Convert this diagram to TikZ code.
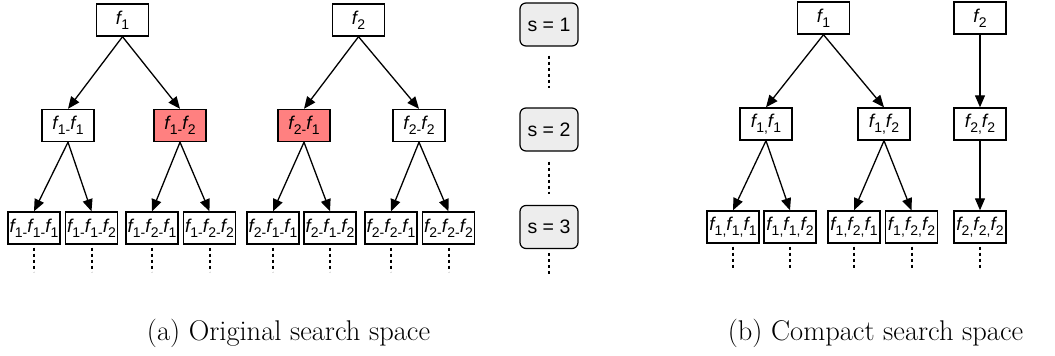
\documentclass[tikz,border=0pt]{standalone}
\usepackage{fontspec}
\setmainfont{Latin Modern Roman}
\newfontfamily\boxfont{Liberation Sans}
\usetikzlibrary{arrows.meta}
\newcommand\fx[1]{\textit{f}\kern-1.3pt\raisebox{-5pt}{\fontsize{14}{14}\selectfont #1}}
\tikzset{
  fbox/.style={draw, line width=1.4pt, minimum width=52pt, minimum height=32pt, inner sep=0pt, fill=white,
    font=\boxfont\fontsize{18.5}{18.5}\selectfont},
  hot/.style={fbox, fill=red!50!white},
  sbox/.style={draw, line width=1.2pt, rounded corners=6pt, minimum width=58pt, minimum height=43pt,
    inner sep=0pt, fill=black!7, font=\boxfont\fontsize{19.5}{19.5}\selectfont},
  arr/.style={line width=1.3pt, -{Triangle[length=12pt,width=10pt]}},
  dots/.style={line width=2pt, dash pattern=on 3pt off 3pt},
  captext/.style={font=\fontsize{28.5}{32}\selectfont}
}
\begin{document}
\begin{tikzpicture}[x=1pt,y=-1pt]
\useasboundingbox (0,0) rectangle (1055,356);
% (a) original
\node[fbox] (a1) at (122.5,20) {\fx{1}};
\node[fbox] (a2) at (358.5,20) {\fx{2}};
\node[fbox] (a11) at (68,125.5) {\fx{1-}\fx{1}};
\node[hot]  (a12) at (180,125.5) {\fx{1-}\fx{2}};
\node[hot]  (a21) at (304,125.5) {\fx{2-}\fx{1}};
\node[fbox] (a22) at (419,125.5) {\fx{2-}\fx{2}};
\node[fbox] (a111) at (34,228) {\fx{1-}\fx{1-}\fx{1}};
\node[fbox] (a112) at (91.5,228) {\fx{1-}\fx{1-}\fx{2}};
\node[fbox] (a121) at (152,228) {\fx{1-}\fx{2-}\fx{1}};
\node[fbox] (a122) at (209.5,228) {\fx{1-}\fx{2-}\fx{2}};
\node[fbox] (a211) at (273,228) {\fx{2-}\fx{1-}\fx{1}};
\node[fbox] (a212) at (330,228) {\fx{2-}\fx{1-}\fx{2}};
\node[fbox] (a221) at (391,228) {\fx{2-}\fx{2-}\fx{1}};
\node[fbox] (a222) at (448.5,228) {\fx{2-}\fx{2-}\fx{2}};
\foreach \p/\c in {a1/a11,a1/a12,a2/a21,a2/a22,a11/a111,a11/a112,a12/a121,a12/a122,a21/a211,a21/a212,a22/a221,a22/a222}
  \draw[arr] (\p.south) -- (\c.north);
\foreach \n in {a111,a112,a121,a122,a211,a212,a221,a222}
  \draw[dots] (\n.south) ++(0,3) -- ++(0,24);
% s boxes
\node[sbox] (s1) at (549,24.5) {s = 1};
\node[sbox] (s2) at (549,129.5) {s = 2};
\node[sbox] (s3) at (549,227) {s = 3};
\draw[dots] (s1.south) ++(0,9) -- ++(0,32);
\draw[dots] (s2.south) ++(0,10) -- ++(0,32);
\draw[dots] (s3.south) ++(0,4) -- ++(0,21);
% (b) compact
\node[fbox] (b1) at (823.5,18) {\fx{1}};
\node[fbox] (b2) at (980,18) {\fx{2}};
\node[fbox] (b11) at (766,124) {\fx{1,}\fx{1}};
\node[fbox] (b12) at (884,124) {\fx{1,}\fx{2}};
\node[fbox] (b22) at (980,124) {\fx{2,}\fx{2}};
\node[fbox] (b111) at (733,227) {\fx{1,}\fx{1,}\fx{1}};
\node[fbox] (b112) at (790,227) {\fx{1,}\fx{1,}\fx{2}};
\node[fbox] (b121) at (854,227) {\fx{1,}\fx{2,}\fx{1}};
\node[fbox] (b122) at (911.5,227) {\fx{1,}\fx{2,}\fx{2}};
\node[fbox] (b222) at (980,227) {\fx{2,}\fx{2,}\fx{2}};
\foreach \p/\c in {b1/b11,b1/b12,b2/b22,b11/b111,b11/b112,b12/b121,b12/b122,b22/b222}
  \draw[arr] (\p.south) -- (\c.north);
\foreach \n in {b111,b112,b121,b122,b222}
  \draw[dots] (\n.south) ++(0,3) -- ++(0,22);
% captions
\node[captext] (capa) at (288.5,333) {(a) Original search space};
\node[captext] (capb) at (875.5,333) {(b) Compact search space};
\end{tikzpicture}
\end{document}
